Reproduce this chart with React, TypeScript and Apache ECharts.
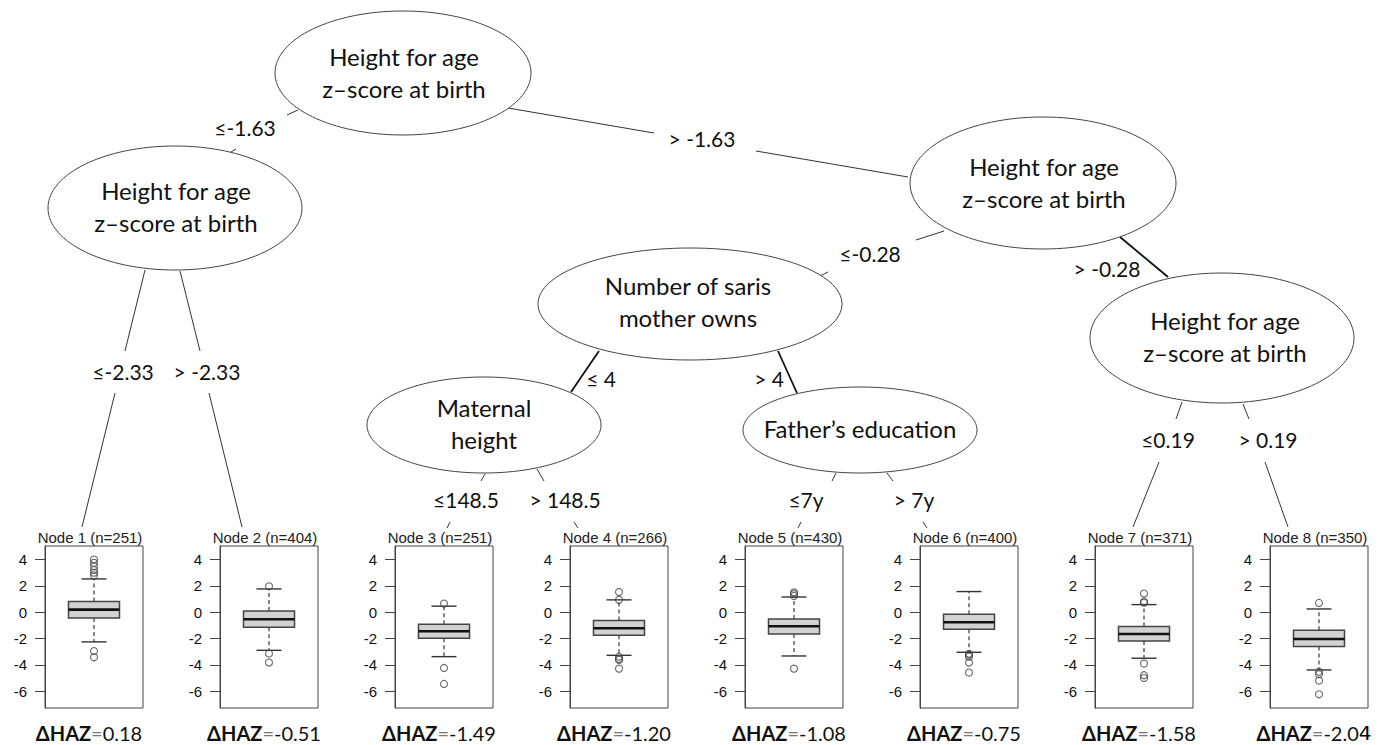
import React, { useEffect, useRef } from "react";
import * as echarts from "echarts";

// ---------- data ----------
const nodeTitles = [
  "Node 1 (n=251)", "Node 2 (n=404)", "Node 3 (n=251)", "Node 4 (n=266)",
  "Node 5 (n=430)", "Node 6 (n=400)", "Node 7 (n=371)", "Node 8 (n=350)",
];
const lowerWhisker = [-2.25, -2.89, -3.37, -3.27, -3.32, -3.04, -3.49, -4.38];
const lowerQuartile = [-0.43, -1.14, -1.97, -1.75, -1.65, -1.29, -2.18, -2.61];
const medians = [0.2, -0.53, -1.44, -1.22, -1.06, -0.76, -1.65, -2.03];
const upperQuartile = [0.81, 0.1, -0.91, -0.63, -0.51, -0.15, -1.09, -1.37];
const upperWhisker = [2.53, 1.77, 0.46, 0.94, 1.16, 1.57, 0.58, 0.25];
const outliers1 = [4.0, 3.75, 3.5, 3.2, 3.0, 2.8, -2.94, -3.42];
const outliers2 = [1.97, -3.14, -3.82];
const outliers3 = [0.66, -4.23, -5.44];
const outliers4 = [1.54, 0.94, -3.37, -3.55, -3.62, -4.28];
const outliers5 = [1.52, 1.39, 1.24, -4.28];
const outliers6 = [-3.15, -3.22, -3.37, -3.82, -4.58];
const outliers7 = [1.42, 0.81, 0.72, -3.9, -4.78, -4.99];
const outliers8 = [0.71, -4.51, -4.71, -5.19, -6.23];
const outliers = [outliers1, outliers2, outliers3, outliers4, outliers5, outliers6, outliers7, outliers8];
const deltaHAZ = ["0.18", "-0.51", "-1.49", "-1.20", "-1.08", "-0.75", "-1.58", "-2.04"];
const yTicks = [-6, -4, -2, 0, 2, 4];
const yMin = -7.27;
const yMax = 5.03;

const splitNodeTexts = [
  "Height for age\nz\u2013score at birth", // root
  "Height for age\nz\u2013score at birth", // A
  "Height for age\nz\u2013score at birth", // B
  "Number of saris\nmother owns", // C
  "Height for age\nz\u2013score at birth", // D
  "Maternal\nheight", // E
  "Father\u2019s education", // F
];
const edgeLabels = [
  "\u2264-1.63", "> -1.63", "\u2264-2.33", "> -2.33", "\u2264-0.28", "> -0.28",
  "\u2264 4", "> 4", "\u2264148.5", "> 148.5", "\u22647y", "> 7y", "\u22640.19", "> 0.19",
];

// ---------- layout (positions / styles) ----------
const ellipses = [
  { cx: 403, cy: 73, rx: 128, ry: 62 },
  { cx: 175, cy: 208, rx: 127, ry: 62 },
  { cx: 1043, cy: 183, rx: 133, ry: 66 },
  { cx: 690, cy: 304, rx: 152, ry: 56 },
  { cx: 1222, cy: 338, rx: 132, ry: 65 },
  { cx: 484, cy: 425, rx: 117, ry: 48 },
  { cx: 860, cy: 430, rx: 117, ry: 43 },
];
const textCenters = [
  [404, 72], [176, 206], [1044, 182], [688, 301], [1225, 336], [484, 423], [860, 428],
];
const edgeLabelPos = [
  [245, 127], [702, 138], [123, 371], [207, 371], [870, 253], [1107, 268],
  [601, 378], [769, 378], [466, 499], [565, 499], [806, 499], [914, 499], [1168, 439], [1268, 439],
];
const edgeSegs: [number, number, number, number, number][] = [
  [298, 110, 287, 115, 1], [236, 149, 231, 152, 1],
  [508, 108, 654, 133, 1], [756, 151, 908, 177, 1],
  [145, 270, 125, 351, 1], [115, 393, 82, 527, 1],
  [180, 271, 200, 351, 1], [209, 393, 242, 527, 1],
  [944, 231, 916, 240, 1], [828, 272, 820, 276, 1],
  [1120, 237, 1168, 277, 1.8],
  [599, 351, 571, 392, 1.8],
  [778, 351, 797, 393, 1.8],
  [485, 474, 481, 481, 1], [450, 522, 447, 528, 1],
  [537, 469, 544, 481, 1], [574, 522, 578, 528, 1],
  [836, 473, 832, 481, 1], [801, 522, 798, 528, 1],
  [887, 473, 893, 481, 1], [923, 522, 927, 528, 1],
  [1182, 402, 1176, 419, 1], [1159, 462, 1133, 527, 1],
  [1243, 404, 1249, 419, 1], [1265, 462, 1288, 527, 1],
];

const PANEL_LEFT = 45;
const PANEL_STEP = 175;
const PANEL_TOP = 546;
const PANEL_W = 98;
const PANEL_H = 162;

const TREE_FONT = "Lato, 'Open Sans', 'Noto Sans', sans-serif";
const PLOT_FONT = "'Liberation Sans', Arial, sans-serif";

export default function App() {
  const ref = useRef<HTMLDivElement>(null);

  useEffect(() => {
    if (!ref.current) return;
    const chart = echarts.init(ref.current, undefined, { renderer: "svg" });

    const grids: any[] = [];
    const xAxes: any[] = [];
    const yAxes: any[] = [];
    const series: any[] = [];
    const graphics: any[] = [];

    nodeTitles.forEach((title, i) => {
      const left = PANEL_LEFT + PANEL_STEP * i;
      grids.push({
        left, top: PANEL_TOP, width: PANEL_W, height: PANEL_H,
        show: true, borderColor: "#444", borderWidth: 1, backgroundColor: "transparent",
      });
      xAxes.push({ type: "value", gridIndex: i, min: 0, max: 1, show: false });
      yAxes.push({
        type: "value", gridIndex: i, min: yMin, max: yMax,
        splitLine: { show: false },
        axisLine: { show: true, lineStyle: { color: "#444", width: 1 } },
        axisTick: { show: true, inside: false, length: 10, customValues: yTicks, lineStyle: { color: "#444", width: 1 } },
        axisLabel: {
          customValues: yTicks, margin: 18, color: "#111", fontSize: 15,
          fontFamily: PLOT_FONT,
        },
      });
      series.push({
        type: "custom", xAxisIndex: i, yAxisIndex: i,
        data: [[0.5, lowerWhisker[i], lowerQuartile[i], medians[i], upperQuartile[i], upperWhisker[i]]],
        encode: { x: 0, y: [1, 2, 3, 4, 5] },
        renderItem: (params: any, api: any) => {
          const x = api.value(0);
          const pLo = api.coord([x, api.value(1)]);
          const pQ1 = api.coord([x, api.value(2)]);
          const pM = api.coord([x, api.value(3)]);
          const pQ3 = api.coord([x, api.value(4)]);
          const pHi = api.coord([x, api.value(5)]);
          const cx = pM[0];
          const bw = 25.5;
          const cw = 12.5;
          const dashStyle = { stroke: "#555", lineWidth: 1.4, lineDash: [4, 3] };
          const capStyle = { stroke: "#333", lineWidth: 1.4 };
          return {
            type: "group",
            children: [
              { type: "line", shape: { x1: cx, y1: pQ3[1], x2: cx, y2: pHi[1] }, style: dashStyle },
              { type: "line", shape: { x1: cx, y1: pQ1[1], x2: cx, y2: pLo[1] }, style: dashStyle },
              { type: "line", shape: { x1: cx - cw, y1: pHi[1], x2: cx + cw, y2: pHi[1] }, style: capStyle },
              { type: "line", shape: { x1: cx - cw, y1: pLo[1], x2: cx + cw, y2: pLo[1] }, style: capStyle },
              {
                type: "rect",
                shape: { x: cx - bw, y: pQ3[1], width: 2 * bw, height: pQ1[1] - pQ3[1] },
                style: { fill: "#d2d2d2", stroke: "#444", lineWidth: 1.5 },
              },
              { type: "line", shape: { x1: cx - bw, y1: pM[1], x2: cx + bw, y2: pM[1] }, style: { stroke: "#111", lineWidth: 2.6 } },
            ],
          };
        },
        silent: true,
      });
      series.push({
        type: "scatter", xAxisIndex: i, yAxisIndex: i,
        data: outliers[i].map((v) => [0.5, v]),
        symbol: "circle", symbolSize: 7,
        itemStyle: { color: "transparent", borderColor: "#444", borderWidth: 1.1 },
        silent: true, z: 5,
      });
      const cxPanel = left + PANEL_W / 2;
      graphics.push({
        type: "text", x: cxPanel - 4, y: 537,
        style: {
          text: title, fill: "#222", fontSize: 15, fontFamily: PLOT_FONT,
          textAlign: "center", textVerticalAlign: "middle",
        },
      });
      const isLast = i === nodeTitles.length - 1;
      const val = deltaHAZ[i];
      const txt = isLast
        ? `{b|\u0394HAZ}{e|=}{r|${val.slice(0, -1)}}{d|${val.slice(-1)}}`
        : `{b|\u0394HAZ}{e|=}{r|${val}}`;
      graphics.push({
        type: "text", x: cxPanel - 5, y: 733,
        style: {
          text: txt, textAlign: "center", textVerticalAlign: "middle",
          rich: {
            b: { fontSize: 20, lineHeight: 20, fontWeight: "bold", fill: "#111", fontFamily: TREE_FONT },
            e: { fontSize: 20, lineHeight: 20, fill: "#777", fontFamily: TREE_FONT },
            r: { fontSize: 20, lineHeight: 20, fill: "#111", fontFamily: TREE_FONT },
            d: { fontSize: 20, lineHeight: 20, fill: "#000", fontFamily: "'DejaVu Sans', sans-serif" },
          },
        },
      });
    });

    // tree edges
    edgeSegs.forEach(([x1, y1, x2, y2, w]) => {
      graphics.push({
        type: "line", shape: { x1, y1, x2, y2 },
        style: { stroke: w > 1 ? "#111" : "#333", lineWidth: w },
        z: 1,
      });
    });
    // ellipses
    ellipses.forEach((e) => {
      graphics.push({
        type: "ellipse", shape: { cx: e.cx, cy: e.cy, rx: e.rx, ry: e.ry },
        style: { fill: "#fff", stroke: "#444", lineWidth: 1 },
        z: 2,
      });
    });
    splitNodeTexts.forEach((t, i) => {
      graphics.push({
        type: "text", x: textCenters[i][0], y: textCenters[i][1], z: 3,
        style: {
          text: t, fill: "#111", fontSize: 24, fontFamily: TREE_FONT, lineHeight: 32,
          textAlign: "center", textVerticalAlign: "middle",
        },
      });
    });
    edgeLabels.forEach((t, i) => {
      graphics.push({
        type: "text", x: edgeLabelPos[i][0], y: edgeLabelPos[i][1], z: 3,
        style: {
          text: t, fill: "#111", fontSize: 21, fontFamily: TREE_FONT,
          textAlign: "center", textVerticalAlign: "middle",
        },
      });
    });

    chart.setOption({
      animation: false,
      backgroundColor: "#fff",
      grid: grids,
      xAxis: xAxes,
      yAxis: yAxes,
      series,
      graphic: graphics,
    });

    return () => chart.dispose();
  }, []);

  return (
    <div
      ref={ref}
      style={{ position: "fixed", left: 0, top: 0, width: 1395, height: 745 }}
    />
  );
}
